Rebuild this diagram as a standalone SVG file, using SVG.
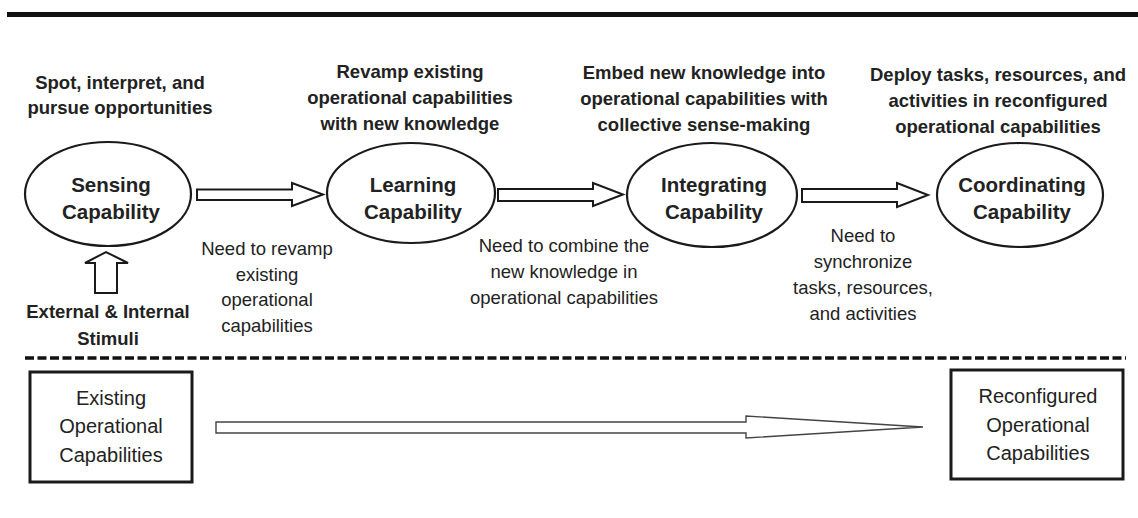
<svg xmlns="http://www.w3.org/2000/svg" width="1138" height="518" viewBox="0 0 1138 518">
<style>
  .b { font-family: "Liberation Sans", Arial, sans-serif; font-weight: bold; font-size: 18.5px; fill: #222; text-anchor: middle; }
  .e { font-family: "Liberation Sans", Arial, sans-serif; font-weight: bold; font-size: 20.5px; fill: #222; text-anchor: middle; }
  .r { font-family: "Liberation Sans", Arial, sans-serif; font-size: 18.5px; fill: #222; text-anchor: middle; }
  .rb { font-family: "Liberation Sans", Arial, sans-serif; font-size: 20px; fill: #222; text-anchor: middle; }
  .ell { fill: #fff; stroke: #1a1a1a; stroke-width: 2.2; }
  .blk { fill: #fff; stroke: #1a1a1a; stroke-width: 2; stroke-linejoin: miter; }
  .thin { fill: #fff; stroke: #444; stroke-width: 1.4; }
  .box { fill: #fff; stroke: #1a1a1a; stroke-width: 3; }
</style>
<rect width="1138" height="518" fill="#fff"/>
<rect x="7" y="12" width="1131" height="5" fill="#111"/>
<line x1="25" y1="358" x2="1126" y2="358" stroke="#111" stroke-width="3.5" stroke-dasharray="9 3.5"/>

<g id="connectors">
  <polygon class="blk" points="197,189.5 292,189.5 292,183 323,194.5 292,206 292,200 197,200"/>
  <polygon class="blk" points="498,189 593,189 593,183 623,194.5 593,206 593,201 498,201"/>
  <polygon class="blk" points="802,189 897,189 897,183 928,195 897,207 897,202 802,202"/>
  <polygon class="blk" points="95,293 95,263 85,263 106,252 128,263 117,263 117,293"/>
  <polygon class="thin" points="216,422 746,422 746,416 923,427 746,438 746,433 216,433"/>
</g>

<g id="sensing">
  <ellipse class="ell" cx="108" cy="194" rx="83" ry="52"/>
  <text class="e" x="111" y="192">Sensing</text>
  <text class="e" x="111" y="219">Capability</text>
</g>
<g id="learning">
  <ellipse class="ell" cx="411" cy="193" rx="84" ry="50"/>
  <text class="e" x="413" y="192">Learning</text>
  <text class="e" x="413" y="219">Capability</text>
</g>
<g id="integrating">
  <ellipse class="ell" cx="712" cy="195" rx="85" ry="52"/>
  <text class="e" x="714" y="192">Integrating</text>
  <text class="e" x="714" y="219">Capability</text>
</g>
<g id="coordinating">
  <ellipse class="ell" cx="1020" cy="195" rx="83" ry="52"/>
  <text class="e" x="1022" y="192">Coordinating</text>
  <text class="e" x="1022" y="219">Capability</text>
</g>

<g id="label-sensing">
  <text class="b" x="120" y="89">Spot, interpret, and</text>
  <text class="b" x="120" y="114">pursue opportunities</text>
</g>
<g id="label-learning">
  <text class="b" x="410" y="78">Revamp existing</text>
  <text class="b" x="410" y="104">operational capabilities</text>
  <text class="b" x="410" y="130">with new knowledge</text>
</g>
<g id="label-integrating">
  <text class="b" x="704" y="79">Embed new knowledge into</text>
  <text class="b" x="704" y="105">operational capabilities with</text>
  <text class="b" x="704" y="131">collective sense-making</text>
</g>
<g id="label-coordinating">
  <text class="b" x="998" y="81">Deploy tasks, resources, and</text>
  <text class="b" x="998" y="107">activities in reconfigured</text>
  <text class="b" x="998" y="133">operational capabilities</text>
</g>

<g id="stimuli">
  <text class="b" x="108" y="318">External &amp; Internal</text>
  <text class="b" x="108" y="345">Stimuli</text>
</g>

<g id="need-revamp">
  <text class="r" x="267" y="255">Need to revamp</text>
  <text class="r" x="267" y="281">existing</text>
  <text class="r" x="267" y="306">operational</text>
  <text class="r" x="267" y="332">capabilities</text>
</g>
<g id="need-combine">
  <text class="r" x="564" y="252">Need to combine the</text>
  <text class="r" x="564" y="278">new knowledge in</text>
  <text class="r" x="564" y="304">operational capabilities</text>
</g>
<g id="need-sync">
  <text class="r" x="863" y="242">Need to</text>
  <text class="r" x="863" y="268">synchronize</text>
  <text class="r" x="863" y="294">tasks, resources,</text>
  <text class="r" x="863" y="320">and activities</text>
</g>

<g id="existing">
  <rect class="box" x="30" y="372" width="162" height="110"/>
  <text class="rb" x="111" y="405">Existing</text>
  <text class="rb" x="111" y="433">Operational</text>
  <text class="rb" x="111" y="462">Capabilities</text>
</g>
<g id="reconfigured">
  <rect class="box" x="951" y="370" width="172" height="109"/>
  <text class="rb" x="1038" y="403">Reconfigured</text>
  <text class="rb" x="1038" y="432">Operational</text>
  <text class="rb" x="1038" y="460">Capabilities</text>
</g>
</svg>
